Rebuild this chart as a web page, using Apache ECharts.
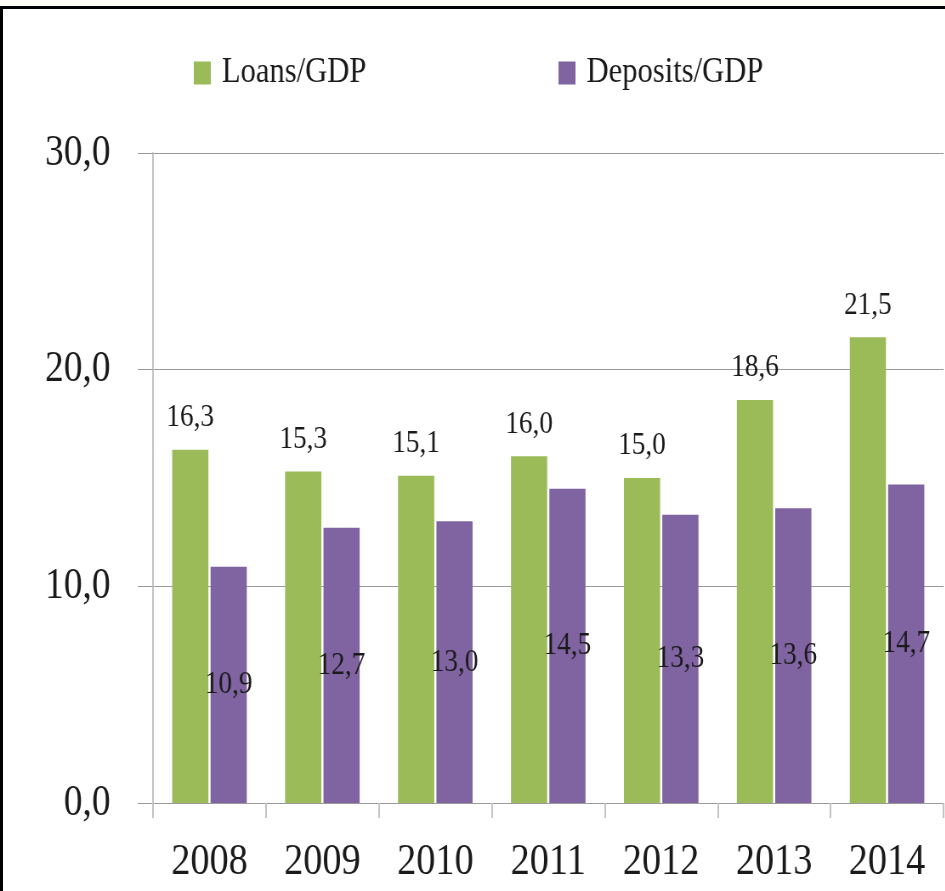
<!DOCTYPE html>
<html>
<head>
<meta charset="utf-8">
<script src="https://cdn.jsdelivr.net/npm/echarts@6/dist/echarts.min.js"></script>
<style>
  html, body { margin: 0; padding: 0; background: #fdfcf7; overflow: hidden; }
  #frame {
    position: absolute; left: 0; top: 6px; width: 945px; height: 885px;
    background: #fff; border-top: 3px solid #000; border-left: 3px solid #000;
    box-sizing: border-box; overflow: hidden;
  }
  /* chart is laid out wider and condensed horizontally, giving the narrow serif look */
  #chart {
    position: absolute; left: -3px; top: -9px; width: 1112px; height: 891px;
    transform: scaleX(0.85); transform-origin: 0 0;
  }
</style>
</head>
<body>
<div id="frame"><div id="chart"></div></div>
<script>
const years = ['2008', '2009', '2010', '2011', '2012', '2013', '2014'];
const loansToGdp = [16.3, 15.3, 15.1, 16.0, 15.0, 18.6, 21.5];
const depositsToGdp = [10.9, 12.7, 13.0, 14.5, 13.3, 13.6, 14.7];
const yTicks = [0, 10, 20, 30];

const FONT = 'Liberation Serif';
const fmt = v => Number(v).toFixed(1).replace('.', ',');

const chart = echarts.init(document.getElementById('chart'), null, { renderer: 'canvas' });
chart.setOption({
  animation: false,
  backgroundColor: '#fff',
  textStyle: { fontFamily: FONT, color: '#1a1a1a' },
  legend: {
    left: 223,
    top: 50,
    itemWidth: 20,
    itemHeight: 23,
    itemGap: 226,
    icon: 'rect',
    textStyle: { fontFamily: FONT, fontSize: 36, color: '#1a1a1a', padding: [0, 0, 0, 8] },
    data: ['Loans/GDP', 'Deposits/GDP']
  },
  grid: { left: 180, right: 2, top: 153, bottom: 88, containLabel: false },
  xAxis: {
    type: 'category',
    data: years,
    boundaryGap: true,
    axisLine: { show: true, lineStyle: { color: '#9a9a9a', width: 1 } },
    axisTick: { show: true, length: 15, lineStyle: { color: '#c4c4c4', width: 2 } },
    axisLabel: { fontFamily: FONT, fontSize: 45, color: '#1a1a1a', margin: 37 }
  },
  yAxis: {
    type: 'value',
    min: yTicks[0],
    max: yTicks[yTicks.length - 1],
    interval: 10,
    axisLine: { show: true, lineStyle: { color: '#c4c4c4', width: 2 } },
    axisTick: { show: true, length: 18, lineStyle: { color: '#9a9a9a', width: 1 } },
    splitLine: { show: true, lineStyle: { color: '#9a9a9a', width: 1 } },
    axisLabel: { fontFamily: FONT, fontSize: 44, color: '#1a1a1a', margin: 50, formatter: fmt }
  },
  series: [
    {
      name: 'Loans/GDP',
      type: 'bar',
      data: loansToGdp,
      barGap: '6%',
      barCategoryGap: '34%',
      itemStyle: { color: '#9bbb59' },
      label: {
        show: true, position: 'top', distance: 16,
        fontFamily: FONT, fontSize: 32, color: '#1a1a1a',
        formatter: p => fmt(p.value)
      }
    },
    {
      name: 'Deposits/GDP',
      type: 'bar',
      data: depositsToGdp,
      barGap: '6%',
      barCategoryGap: '34%',
      itemStyle: { color: '#8064a2' },
      label: {
        show: true, position: 'inside',
        fontFamily: FONT, fontSize: 32, color: '#1a1a1a',
        formatter: p => fmt(p.value)
      }
    }
  ]
});
</script>
</body>
</html>
